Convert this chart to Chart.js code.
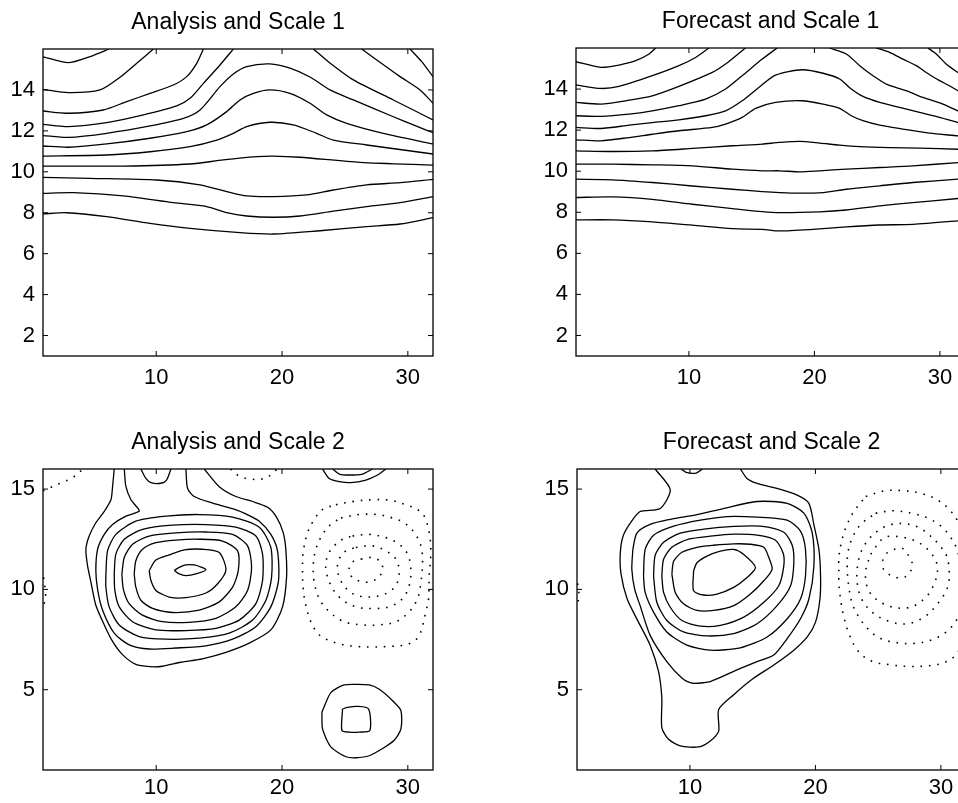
<!DOCTYPE html>
<html>
<head>
<meta charset="utf-8">
<script src="https://cdn.jsdelivr.net/npm/chart.js@4.4.1/dist/chart.umd.min.js"></script>
<style>
  html, body { margin: 0; padding: 0; background: #fff; overflow: hidden; width: 958px; height: 803px; }
  canvas { position: absolute; }
</style>
</head>
<body>
<canvas id="anaS1" width="479" height="400" style="left:0;top:0"></canvas>
<canvas id="fcS1" width="500" height="400" style="left:479px;top:0"></canvas>
<canvas id="anaS2" width="479" height="403" style="left:0;top:400px"></canvas>
<canvas id="fcS2" width="500" height="403" style="left:479px;top:400px"></canvas>
<script>
// tick labels
const xTicks = [10, 20, 30];
const yTicksScale1 = [2, 4, 6, 8, 10, 12, 14];
const yTicksScale2 = [5, 10, 15];

// contour paths, [x, y] in grid units
const analysis1Solid = [
  [[1,15.62],[3.01,15.33],[4.74,15.63],[6.06,15.95],[6.2,16]],
  [[1,14.03],[3.01,13.87],[5.53,14.0],[7.12,14.62],[8.45,15.30],[9.77,16]],
  [[1,12.97],[3.01,12.86],[5.80,13.02],[7.65,13.43],[9.51,13.83],[11.36,14.24],[12.42,14.65],[13.22,15.30],[13.75,16]],
  [[1,12.32],[3.01,12.21],[6.06,12.40],[8.98,12.78],[11.63,13.22],[12.69,13.59],[13.75,14.32],[15.07,15.22],[16.13,16]],
  [[1,11.77],[3.01,11.68],[6.06,11.88],[9.51,12.24],[12.16,12.61],[13.48,13.02],[15.07,14.16],[16.13,14.78],[17.19,15.14],[19.04,15.27],[20.63,15.06],[22.22,14.63],[23.81,14.0],[25.67,13.51],[28.85,12.69],[30.44,12.29],[32,11.91]],
  [[1,11.26],[3.01,11.20],[6.06,11.36],[9.51,11.64],[12.42,11.96],[14.01,12.29],[15.60,12.94],[16.66,13.51],[17.72,13.83],[19.04,14.0],[20.63,13.83],[22.22,13.35],[23.55,12.78],[25.14,12.37],[28.05,11.88],[32,11.36]],
  [[1,10.77],[6.06,10.82],[9.51,10.98],[12.69,11.23],[14.81,11.55],[16.13,11.88],[17.19,12.21],[19.04,12.42],[20.90,12.29],[22.75,11.88],[24.08,11.55],[26.73,11.31],[32,10.87]],
  [[1,10.28],[7.39,10.28],[12.69,10.38],[15.33,10.58],[17.98,10.74],[19.31,10.77],[21.43,10.71],[26.20,10.46],[32,10.33]],
  [[1,9.73],[4.74,9.68],[10.04,9.60],[13.48,9.36],[15.60,9.03],[17.19,8.82],[19.31,8.79],[21.96,8.87],[24.08,9.11],[26.73,9.36],[29.38,9.47],[32,9.63]],
  [[1,8.95],[3.41,8.98],[7.39,8.82],[11.36,8.49],[14.01,8.30],[15.60,8.0],[17.19,7.84],[19.31,7.78],[21.43,7.84],[24.08,8.08],[26.73,8.30],[29.38,8.49],[32,8.79]],
  [[1,7.94],[2.88,8.0],[6.06,7.81],[9.51,7.48],[12.69,7.24],[16.66,7.03],[19.31,6.96],[23.02,7.12],[26.73,7.32],[29.38,7.45],[32,7.76]],
  [[22.49,16],[23.68,15.38],[25.67,14.49],[28.85,13.51],[30.44,13.02],[32,12.53]],
  [[26.33,16],[27.53,15.46],[29.38,14.65],[30.97,14.0],[32,13.35]],
  [[30.17,16],[31.10,15.38],[32,14.65]]
];

const forecast1Solid = [
  [[1,15.33],[2.97,15.06],[4.43,15.17],[5.76,15.38],[6.82,15.71],[7.35,16]],
  [[1,14.20],[2.97,14.03],[4.43,14.13],[7.08,14.65],[9.20,15.14],[10.53,15.54],[11.59,16]],
  [[1,13.35],[2.97,13.27],[4.96,13.43],[7.08,13.67],[9.20,14.13],[11.86,14.81],[12.92,15.22],[14.24,15.87],[14.51,16]],
  [[1,12.70],[2.97,12.67],[5.23,12.78],[7.08,12.94],[9.20,13.19],[11.33,13.51],[12.92,14.0],[14.24,14.65],[15.84,15.46],[17.03,16]],
  [[1,12.13],[2.97,12.08],[5.23,12.24],[7.08,12.37],[9.20,12.50],[11.33,12.70],[12.92,12.94],[14.24,13.43],[15.57,14.08],[16.90,14.68],[19.02,14.94],[20.69,14.77],[22.01,14.49],[22.94,14.0],[23.87,13.64],[25.20,13.35],[26.79,13.11],[28.38,12.86],[29.97,12.62],[31.43,12.37],[32,12.28]],
  [[1,11.53],[2.97,11.48],[5.23,11.64],[7.08,11.80],[9.20,11.97],[11.86,12.13],[12.92,12.29],[14.24,12.62],[15.31,13.06],[16.90,13.35],[19.02,13.43],[20.69,13.27],[22.01,13.06],[22.94,12.70],[23.87,12.46],[25.20,12.24],[27.05,12.05],[29.18,11.85],[31.43,11.72],[32,11.68]],
  [[1,10.99],[3.90,10.96],[7.08,10.99],[10.27,11.11],[13.45,11.24],[15.84,11.32],[17.24,11.40],[18.83,11.45],[20.42,11.37],[22.01,11.27],[23.61,11.20],[26.0,11.15],[28.38,11.12],[31.43,11.07],[32,11.06]],
  [[1,10.34],[3.90,10.34],[7.08,10.31],[10.27,10.26],[13.45,10.10],[15.84,10.02],[17.24,10.02],[18.83,9.97],[20.42,10.02],[22.54,10.10],[25.20,10.18],[27.85,10.26],[31.43,10.42],[32,10.45]],
  [[1,9.61],[3.90,9.58],[7.08,9.45],[10.27,9.28],[13.45,9.12],[15.84,9.01],[17.24,8.96],[18.83,8.93],[20.69,8.96],[22.54,9.12],[25.20,9.29],[27.85,9.45],[31.43,9.61],[32,9.65]],
  [[1,8.72],[3.90,8.75],[7.08,8.63],[10.27,8.39],[13.45,8.18],[15.84,8.03],[17.24,7.98],[20.42,8.02],[22.54,8.11],[25.20,8.31],[27.85,8.47],[31.43,8.67],[32,8.72]],
  [[1,7.63],[3.90,7.63],[7.08,7.53],[10.27,7.37],[13.45,7.20],[15.84,7.17],[17.24,7.09],[19.89,7.17],[22.54,7.29],[25.20,7.38],[27.85,7.41],[31.43,7.58],[32,7.62]],
  [[21.2,16],[22.54,15.71],[23.61,15.14],[24.67,14.65],[25.73,14.24],[27.32,13.92],[28.65,13.59],[30.24,13.27],[31.43,12.94],[32,12.8]],
  [[24.93,16],[25.99,15.79],[27.05,15.46],[28.12,15.14],[28.91,14.81],[29.97,14.41],[30.77,14.16],[31.43,13.92],[32,13.75]],
  [[29.04,16],[29.71,15.71],[30.50,15.22],[31.43,14.81],[32,14.6]]
];

const analysis2Solid = [
  [[6.66,16],[6.53,15.12],[6.40,14.47],[5.87,13.89],[5.20,13.32],[4.67,12.66],[4.41,12.0],[4.54,11.18],[4.81,10.36],[5.20,9.21],[5.87,8.23],[6.53,7.41],[7.32,6.75],[8.38,6.26],[9.5,6.15],[10.5,6.17],[11.96,6.37],[13.68,6.54],[15.54,6.86],[17.39,7.32],[19.11,7.98],[20.04,9.13],[20.36,10.61],[20.31,11.92],[20.10,12.82],[19.56,13.60],[18.85,14.09],[17.66,14.38],[16.33,14.63],[15.01,15.12],[13.82,16]],
  [[7.46,16],[7.59,15.13],[7.99,14.47],[8.52,14.06],[8.65,13.89],[7.59,13.65],[6.53,13.23],[5.87,12.74],[5.34,12.0],[5.20,10.94],[5.34,10.0],[5.73,8.97],[6.66,7.82],[7.85,7.24],[9.44,7.03],[11.56,7.08],[13.95,7.19],[16.07,7.52],[17.92,8.14],[19.11,9.13],[19.72,10.44],[19.64,11.92],[19.11,12.74],[18.19,13.40],[17.13,13.76],[16.07,14.02],[14.48,14.30],[13.02,14.63],[12.49,15.04],[12.36,16]],
  [[6.0,10.77],[6.13,11.92],[6.79,12.74],[8.38,13.40],[10.77,13.65],[13.42,13.73],[16.07,13.60],[18.19,13.10],[19.11,12.09],[19.17,10.61],[18.72,9.46],[17.66,8.47],[15.80,7.82],[13.42,7.57],[10.77,7.52],[8.65,7.65],[7.06,8.23],[6.26,9.13],[6.0,10.11],[6.0,10.77]],
  [[6.66,10.77],[6.79,11.76],[7.46,12.50],[8.91,12.99],[11.30,13.20],[13.95,13.23],[16.33,13.10],[17.92,12.66],[18.45,11.76],[18.45,10.44],[17.92,9.29],[16.60,8.47],[14.74,8.06],[12.36,7.95],[9.97,7.98],[8.12,8.39],[7.06,9.13],[6.71,9.95],[6.66,10.77]],
  [[7.27,10.77],[7.46,11.59],[8.12,12.25],[9.44,12.66],[11.56,12.82],[13.95,12.86],[16.07,12.74],[17.26,12.17],[17.58,11.10],[17.26,9.95],[16.33,9.13],[14.74,8.56],[12.62,8.36],[10.50,8.39],[8.91,8.72],[7.85,9.29],[7.38,10.03],[7.27,10.77]],
  [[8.25,10.77],[8.38,11.43],[8.91,12.0],[9.97,12.33],[11.56,12.46],[13.42,12.50],[15.27,12.41],[16.47,11.92],[16.52,10.94],[16.07,10.11],[15.01,9.38],[13.42,8.97],[11.30,8.85],[9.71,9.05],[8.78,9.46],[8.38,10.11],[8.25,10.77]],
  [[9.44,10.94],[9.97,11.46],[11.03,11.72],[12.23,11.97],[13.68,12.0],[15.01,11.84],[15.54,10.97],[14.88,10.28],[13.95,9.82],[12.36,9.59],[11.03,9.62],[9.97,9.95],[9.58,10.44],[9.44,10.94]],
  [[11.43,10.94],[11.83,11.10],[12.36,11.22],[13.02,11.22],[13.95,10.99],[13.15,10.77],[12.36,10.69],[11.83,10.77],[11.43,10.94]],
  [[8.78,16],[9.18,15.53],[9.58,15.32],[10.37,15.29],[10.82,15.45],[11.17,16]],
  [[23.22,16],[23.75,15.53],[24.55,15.37],[25.47,15.32],[26.67,15.45],[27.59,15.70],[28.26,16]],
  [[24.02,16],[24.55,15.75],[25.34,15.70],[26.40,15.75],[27.20,16]],
  [[23.17,3.88],[23.22,3.05],[23.88,2.15],[25.08,1.66],[25.87,1.61],[26.93,1.71],[27.99,2.07],[28.92,2.48],[29.45,3.05],[29.45,3.96],[28.79,4.45],[27.73,5.02],[26.93,5.24],[25.87,5.27],[24.94,5.24],[23.88,4.86],[23.17,3.88]],
  [[24.81,4.04],[25.21,4.12],[26.0,4.17],[26.88,4.04],[26.98,2.97],[26.14,2.89],[25.34,2.89],[24.76,2.97],[24.81,4.04]]
];

const analysis2Dotted = [
  [[1,14.91],[1.76,15.12],[2.55,15.34],[3.35,15.57],[4.2,16]],
  [[15.9,16],[16.6,15.65],[17.5,15.5],[18.4,15.5],[19.1,15.7],[19.6,16]],
  [[1.05,10.6],[1.15,10.1],[1.2,9.6],[1.05,9.2]],
  [[24.28,14.22],[25.74,14.39],[27.19,14.47],[28.65,14.44],[29.84,14.22],[30.77,13.98],[31.30,13.65],[31.70,12.83],[31.83,11.84],[31.70,10.69],[31.65,9.54],[31.43,8.89],[31.04,7.90],[30.64,7.49],[29.84,7.24],[28.52,7.16],[27.19,7.13],[25.87,7.16],[24.28,7.33],[22.95,7.74],[22.29,8.39],[21.89,9.21],[21.68,10.03],[21.63,11.02],[21.68,11.84],[22.03,12.83],[22.56,13.48],[23.22,13.98],[24.28,14.22]],
  [[24.68,13.56],[26.13,13.73],[27.59,13.73],[28.78,13.56],[29.71,13.32],[30.51,12.83],[31.04,12.17],[31.17,11.35],[31.04,10.36],[30.77,9.54],[30.11,8.89],[29.05,8.39],[27.72,8.23],[26.40,8.23],[24.94,8.39],[23.75,8.89],[22.95,9.54],[22.56,10.36],[22.48,11.18],[22.69,12.0],[23.22,12.74],[23.88,13.24],[24.68,13.56]],
  [[25.60,12.66],[26.93,12.74],[28.25,12.58],[29.31,12.25],[29.98,11.76],[30.24,11.02],[30.11,10.20],[29.58,9.54],[28.52,9.13],[27.19,9.05],[25.87,9.13],[24.68,9.54],[23.88,10.20],[23.48,11.02],[23.62,11.68],[24.15,12.17],[24.81,12.50],[25.60,12.66]],
  [[25.87,12.09],[27.19,12.17],[28.25,11.92],[29.05,11.51],[29.31,10.86],[29.05,10.20],[28.25,9.79],[26.93,9.62],[25.60,9.79],[24.81,10.28],[24.41,10.94],[24.54,11.51],[25.07,11.92],[25.87,12.09]],
  [[26.27,11.51],[27.19,11.59],[27.86,11.35],[27.99,11.02],[27.72,10.61],[27.32,10.45],[26.66,10.36],[26.0,10.45],[25.47,10.69],[25.34,11.10],[25.74,11.43],[26.27,11.51]]
];

const forecast2Solid = [
  [[7.23,16],[8.43,14.97],[7.63,14.03],[6.03,13.88],[5.23,13.29],[4.67,12.65],[4.45,11.81],[4.5,10.8],[5.0,9.52],[5.9,8.37],[6.83,7.22],[7.50,5.90],[7.76,4.59],[7.76,3.11],[8.30,2.53],[9.23,2.20],[10.69,2.15],[11.62,2.45],[12.29,2.94],[12.29,4.01],[13.49,4.75],[15.09,5.58],[16.68,6.23],[18.28,6.97],[19.35,7.63],[20.01,8.37],[20.36,9.52],[20.41,10.67],[20.28,11.99],[19.88,13.22],[19.48,14.29],[18.55,14.70],[16.95,15.03],[15.35,15.28],[14.55,15.53],[14.02,16]],
  [[5.45,12.0],[5.37,11.0],[5.6,10.0],[6.03,9.19],[6.83,7.71],[8.16,6.40],[9.36,5.58],[10.16,5.33],[11.62,5.41],[13.75,5.99],[15.35,6.40],[16.68,6.73],[17.75,7.55],[18.81,8.54],[19.48,9.52],[19.88,11.17],[19.75,12.81],[19.08,13.80],[17.75,14.29],[15.35,14.38],[12.66,14.03],[10.56,13.73],[8.43,13.49],[6.83,13.24],[5.77,12.81],[5.45,12.0]],
  [[6.30,10.67],[6.43,11.99],[7.10,12.7],[8.70,13.15],[10.83,13.45],[12.96,13.63],[15.35,13.6],[17.75,13.45],[18.81,12.9],[19.21,11.99],[19.21,10.67],[18.81,9.52],[17.75,8.54],[16.15,7.63],[14.02,7.09],[11.62,6.97],[9.76,7.22],[8.16,7.88],[7.10,8.87],[6.43,9.85],[6.30,10.67]],
  [[7.10,10.67],[7.23,11.7],[7.90,12.35],[9.23,12.8],[11.09,13.0],[13.49,13.14],[15.62,13.15],[17.48,12.85],[18.15,12.2],[18.28,11.33],[18.02,10.18],[16.95,9.19],[15.35,8.29],[13.49,7.80],[11.36,7.68],[9.49,7.88],[8.16,8.45],[7.36,9.36],[7.10,10.67]],
  [[7.76,10.67],[7.90,11.5],[8.56,12.1],[9.89,12.5],[11.62,12.65],[13.49,12.75],[15.35,12.7],[16.82,12.45],[17.43,11.8],[17.48,11.17],[17.08,10.18],[15.89,9.36],[14.29,8.62],[12.42,8.21],[10.83,8.17],[9.36,8.45],[8.43,9.11],[7.90,9.85],[7.76,10.67]],
  [[8.56,10.76],[8.70,11.4],[9.36,11.85],[10.56,12.1],[11.89,12.2],[13.49,12.27],[14.82,12.25],[15.89,12.1],[16.28,11.6],[16.55,11.0],[15.89,10.43],[14.82,9.77],[13.49,9.19],[11.89,8.95],[10.56,8.95],[9.49,9.28],[8.83,9.85],[8.56,10.76]],
  [[10.29,10.92],[10.56,11.33],[11.36,11.66],[12.42,11.91],[13.49,11.99],[14.29,11.74],[15.22,11.09],[14.55,10.59],[13.49,10.10],[12.16,9.77],[11.09,9.72],[10.29,9.93],[10.29,10.92]],
  [[9.3,16],[9.7,15.83],[10.5,15.8],[11.0,16]]
];

const forecast2Dotted = [
  [[1.05,10.3],[1.15,9.9],[1.1,9.4]],
  [[24.01,14.63],[25.47,14.91],[26.93,14.92],[28.40,14.79],[29.73,14.46],[30.80,13.89],[31.5,13.2],[31.95,12.3],[32.1,11.0],[32.0,9.6],[31.8,8.0],[31.44,6.98],[31.06,6.65],[30.26,6.35],[28.93,6.19],[27.47,6.16],[26.0,6.24],[24.40,6.44],[23.34,6.98],[22.67,7.80],[22.27,8.62],[22.06,9.28],[21.87,10.27],[21.87,10.93],[21.87,11.58],[22.06,12.32],[22.41,13.06],[23.07,13.89],[24.01,14.63]],
  [[24.80,13.80],[26.14,13.92],[27.60,13.80],[28.93,13.56],[30.0,13.15],[30.80,12.57],[31.33,11.91],[31.55,11.0],[31.5,10.0],[31.44,8.79],[31.06,8.29],[30.26,7.80],[29.20,7.47],[27.87,7.31],[26.53,7.34],[25.20,7.55],[24.27,7.97],[23.47,8.62],[22.94,9.28],[22.67,10.10],[22.54,10.93],[22.59,11.83],[22.94,12.57],[23.61,13.23],[24.80,13.80]],
  [[29.60,12.41],[30.40,11.75],[30.66,10.93],[30.53,10.10],[29.73,9.28],[28.67,8.62],[27.33,8.29],[26.0,8.38],[24.67,8.79],[23.74,9.45],[23.34,10.27],[23.34,11.09],[23.61,11.83],[24.14,12.41],[24.94,12.90],[26.0,13.23],[27.33,13.26],[28.53,12.98],[29.60,12.41]],
  [[24.40,11.75],[25.47,12.57],[26.93,12.60],[28.27,12.32],[29.07,11.91],[29.60,11.42],[29.73,10.93],[29.46,10.27],[28.80,9.61],[27.60,9.12],[26.14,9.12],[24.80,9.53],[24.14,10.10],[24.01,10.93],[24.40,11.75]],
  [[25.34,11.42],[25.74,11.83],[26.93,12.04],[27.47,11.63],[27.73,11.25],[27.60,10.93],[27.07,10.60],[26.27,10.63],[25.47,10.96],[25.34,11.42]]
];

Chart.defaults.font.family = '"Liberation Sans", Arial, Helvetica, sans-serif';
Chart.defaults.color = '#000';

// box with inward ticks on all four sides, like the original plot
const frame = {
  id: 'frame',
  afterDatasetsDraw(chart) {
    const { ctx, chartArea: a, scales: { x, y } } = chart;
    const len = 5;
    ctx.save();
    ctx.strokeStyle = '#000';
    ctx.lineWidth = 1.3;
    ctx.strokeRect(a.left, a.top, a.right - a.left, a.bottom - a.top);
    ctx.lineWidth = 1;
    ctx.beginPath();
    x.ticks.forEach(t => {
      const p = x.getPixelForValue(t.value);
      ctx.moveTo(p, a.bottom); ctx.lineTo(p, a.bottom - len);
      ctx.moveTo(p, a.top); ctx.lineTo(p, a.top + len);
    });
    y.ticks.forEach(t => {
      const p = y.getPixelForValue(t.value);
      ctx.moveTo(a.left, p); ctx.lineTo(a.left + len, p);
      ctx.moveTo(a.right, p); ctx.lineTo(a.right - len, p);
    });
    ctx.stroke();
    ctx.restore();
  }
};

function contour(path, dotted) {
  return {
    data: path.map(([x, y]) => ({ x, y })),
    borderColor: '#000',
    borderWidth: dotted ? 1.6 : 1.3,
    borderDash: dotted ? [1.6, 6.8] : [],
    pointRadius: 0,
    tension: dotted ? 0.35 : 0.25,
    fill: false
  };
}

function panel(id, title, solid, dotted, yTicks, box) {
  const datasets = solid.map(p => contour(p, false)).concat(dotted.map(p => contour(p, true)));
  new Chart(document.getElementById(id), {
    type: 'line',
    data: { datasets },
    options: {
      responsive: false,
      animation: false,
      devicePixelRatio: 1,
      layout: { padding: { left: 0, top: 0, bottom: 0, right: box.right } },
      plugins: {
        legend: { display: false },
        tooltip: { enabled: false },
        title: {
          display: true,
          text: title,
          fullSize: false,
          color: '#000',
          font: { size: 23, weight: 'normal' },
          padding: { top: box.titleTop, bottom: box.titleBottom }
        }
      },
      scales: {
        x: {
          type: 'linear',
          min: 1,
          max: 32,
          grid: { display: false, drawTicks: false },
          border: { display: false },
          afterBuildTicks: s => { s.ticks = xTicks.map(v => ({ value: v })); },
          afterFit: s => { s.height = box.bottom; },
          ticks: { padding: box.xPad, font: { size: 22 }, maxRotation: 0 }
        },
        y: {
          type: 'linear',
          min: 1,
          max: 16,
          grid: { display: false, drawTicks: false },
          border: { display: false },
          afterBuildTicks: s => { s.ticks = yTicks.map(v => ({ value: v })); },
          afterFit: s => { s.width = box.left; },
          ticks: { padding: 8, font: { size: 22 } }
        }
      }
    },
    plugins: [frame]
  });
}

panel('anaS1', 'Analysis and Scale 1', analysis1Solid, [], yTicksScale1,
  { left: 43, right: 46, bottom: 44, titleTop: 9.2, titleBottom: 12.2, xPad: 9 });
panel('fcS1', 'Forecast and Scale 1', forecast1Solid, [], yTicksScale1,
  { left: 97, right: 14, bottom: 44, titleTop: 8.2, titleBottom: 12.2, xPad: 9 });
panel('anaS2', 'Analysis and Scale 2', analysis2Solid, analysis2Dotted, yTicksScale2,
  { left: 43, right: 46, bottom: 33, titleTop: 29.2, titleBottom: 12.2, xPad: 5 });
panel('fcS2', 'Forecast and Scale 2', forecast2Solid, forecast2Dotted, yTicksScale2,
  { left: 98, right: 13, bottom: 33, titleTop: 29.2, titleBottom: 12.2, xPad: 5 });
</script>
</body>
</html>
